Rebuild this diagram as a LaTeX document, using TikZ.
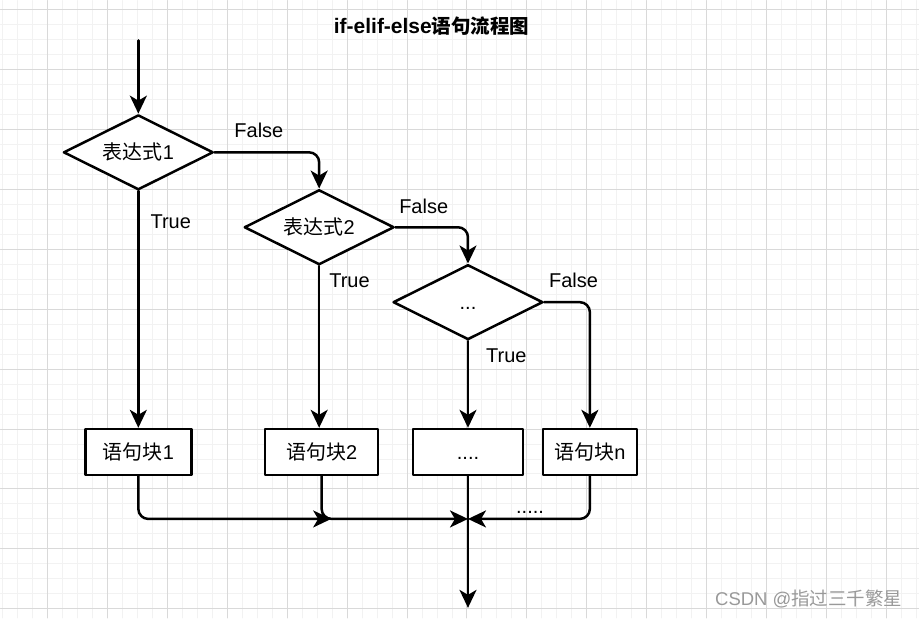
\documentclass[tikz,border=0pt]{standalone}
\usepackage{fontspec}
\setmainfont{Liberation Sans}
\newfontfamily\cjk{Noto Sans CJK SC}
\usetikzlibrary{arrows.meta,shapes.geometric}
\newcommand\zh[1]{{\cjk #1}}
\newcommand\txtsize{\fontsize{20}{24}\selectfont}
\definecolor{gridlo}{HTML}{F2F2F2}
\definecolor{gridhi}{HTML}{D9D9D9}
\tikzset{
  dec/.style={diamond,aspect=2,draw,line width=2.5pt,fill=white,
              minimum width=150pt,minimum height=75pt,inner sep=0pt,
              font=\txtsize,text height=18pt,text depth=4pt},
  blk/.style={rectangle,draw,line width=2.5pt,fill=white,minimum height=46pt,
              inner sep=0pt,font=\txtsize,text height=18pt,text depth=4pt},
  flow/.style={line width=2.5pt,rounded corners=10pt,
               -{Stealth[length=18pt,width=17pt,inset=5pt]}},
  lbl/.style={anchor=base west,inner sep=0pt,font=\txtsize},
  every picture/.style={line cap=round,line join=round}}

\begin{document}
\begin{tikzpicture}[x=1pt,y=-1pt]
  % grid paper
  \fill[white] (0,0) rectangle (919,618);
  \foreach \x in {2,17,...,917} \draw[gridlo,line width=1pt] (\x,0) -- (\x,618);
  \foreach \y in {9,24,...,609} \draw[gridlo,line width=1pt] (0,\y) -- (919,\y);
  \foreach \x in {47,107,...,887} \draw[gridhi,line width=1pt] (\x,0) -- (\x,618);
  \foreach \y in {9,69,...,609} \draw[gridhi,line width=1pt] (0,\y) -- (919,\y);
  \useasboundingbox (0,0) rectangle (919,618);

  \node[anchor=base,inner sep=0pt,font=\fontsize{21}{24}\selectfont\bfseries] (title)
    at (431.5,33) {if-elif-else{\cjk\fontsize{19.5}{22}\selectfont\bfseries 语句流程图}};

  \node[dec] (d1) at (138,152) {\zh{表达式}1};
  \node[dec] (d2) at (319,227) {\zh{表达式}2};
  \node[dec] (d3) at (468,302) {...};
  \node[blk,minimum width=106pt] (b1) at (138,452)   {\zh{语句块}1};
  \node[blk,minimum width=113pt] (b2) at (321.5,452) {\zh{语句块}2};
  \node[blk,minimum width=110pt] (b3) at (468,452)   {....};
  \node[blk,minimum width=94pt]  (b4) at (590,452)   {\zh{语句块}n};

  \coordinate (top) at (138,40);
  \coordinate (join) at (468,519);
  \coordinate (join2) at (331,519);
  \coordinate (out) at (468,608);

  \draw[flow] (top) -- (d1.north);
  \draw[flow] (d1.east) -| (d2.north);
  \draw[flow] (d2.east) -| (d3.north);
  \draw[flow] (d3.east) -| (b4.north);
  \draw[flow] (d1.south) -- (b1.north);
  \draw[flow] (d2.south) -- (d2.south |- b2.north);
  \draw[flow] (d3.south) -- (b3.north);
  \draw[flow] (b1.south) |- (join2);
  \draw[flow] (b2.south) |- (join);
  \draw[flow] (b4.south) |- (join);
  \draw[flow] (b3.south) -- (out);

  \node[lbl] (f1) at (234,137) {False};
  \node[lbl] (t1) at (150,228) {True};
  \node[lbl] (f2) at (399,213) {False};
  \node[lbl] (t2) at (329,287) {True};
  \node[lbl] (f3) at (549,287) {False};
  \node[lbl] (t3) at (486,362) {True};
  \node[lbl] (more) at (516,514) {.....};

  \node[anchor=base east,inner sep=0pt,text=gray!80,
        font=\fontsize{18.5}{22}\selectfont] (mark) at (903,606)
    {CSDN @\zh{指过三千繁星}};
\end{tikzpicture}
\end{document}
